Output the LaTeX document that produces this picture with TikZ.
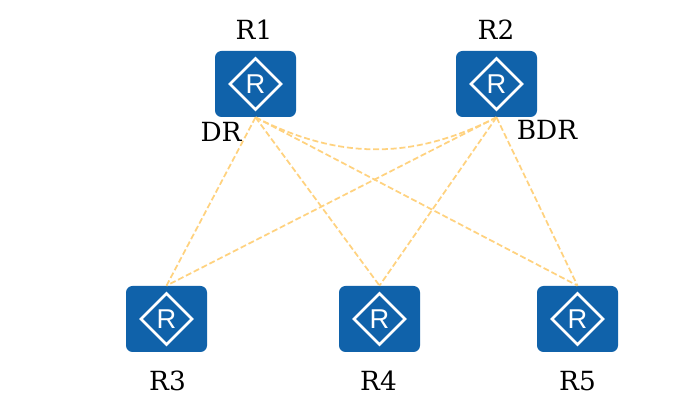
\documentclass[tikz,border=0pt]{standalone}
\usepackage{fontspec}
\setmainfont{DejaVu Serif}
\newfontfamily\routerfont{Liberation Sans}
\usetikzlibrary{shapes.geometric}
\definecolor{routerblue}{HTML}{1062AA}
\definecolor{linkyellow}{HTML}{FFD27F}
\tikzset{
    router/.style = {draw = none, fill = routerblue, rounded corners = 0.13cm, minimum width = 1.62cm, minimum height = 1.32cm, inner sep = 0pt},
    routermark/.style = {diamond, draw = white, line width = 1.5pt, minimum width = 1.04cm, minimum height = 1.04cm, inner sep = 0pt, text = white, font = \routerfont\fontsize{15.5}{15.5}\selectfont},
    link/.style = {draw = linkyellow, dash pattern = on 3.4pt off 1.6pt, line width = 1pt},
    routerlabel/.style = {inner sep = 0pt, font = \fontsize{15}{15}\selectfont}
}
\begin{document}
\begin{tikzpicture}
            \useasboundingbox(0,0)rectangle(13.96,8.08);
            % upper routers
            \node[router](r1)at(5.11,6.40){};
            \node[routermark](r1m)at(r1){R};
            \node[routerlabel](r1n)at(5.08,7.48){R1};
            \node[routerlabel](dr)at(4.42,5.44){DR};
            \node[router](r2)at(9.93,6.40){};
            \node[routermark](r2m)at(r2){R};
            \node[routerlabel](r2n)at(9.92,7.48){R2};
            \node[routerlabel](bdr)at(10.94,5.48){BDR};
            % lower routers
            \node[router](r3)at(3.33,1.70){};
            \node[routermark](r3m)at(r3){R};
            \node[routerlabel](r3n)at(3.35,0.46){R3};
            \node[router](r4)at(7.59,1.70){};
            \node[routermark](r4m)at(r4){R};
            \node[routerlabel](r4n)at(7.57,0.46){R4};
            \node[router](r5)at(11.55,1.70){};
            \node[routermark](r5m)at(r5){R};
            \node[routerlabel](r5n)at(11.55,0.46){R5};
            % links
            \path[link](r1.south)to[bend right = 27](r2.south);
            \path[link](r1.south)to(r3.north);
            \path[link](r1.south)to(r4.north);
            \path[link](r1.south)to(r5.north);
            \path[link](r2.south)to(r3.north);
            \path[link](r2.south)to(r4.north);
            \path[link](r2.south)to(r5.north);
        \end{tikzpicture}
\end{document}
